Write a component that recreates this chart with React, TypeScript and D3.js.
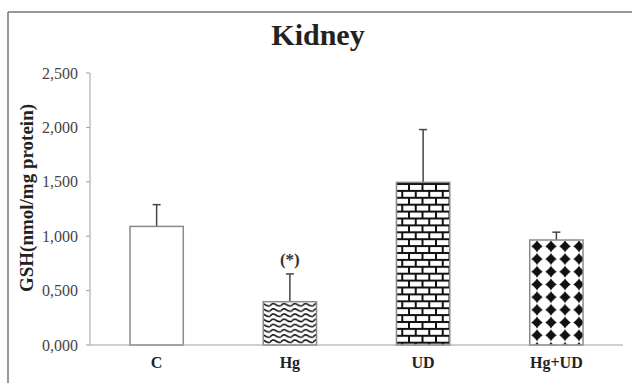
import React from "react";
import * as d3 from "d3";

const categories = ["C", "Hg", "UD", "Hg+UD"];
const means = [1090, 398, 1495, 965];
const errors = [200, 255, 485, 72];
const yTicks = [0, 500, 1000, 1500, 2000, 2500];
const patternIds = ["none", "wave", "brick", "diamond"];

const W = 632;
const H = 383;
const serif = "'Liberation Serif', 'Times New Roman', serif";

export default function App() {
  const x = d3
    .scaleBand<string>()
    .domain(categories)
    .range([90, 623])
    .paddingInner(0.6)
    .paddingOuter(0.3);
  const y = d3.scaleLinear().domain([0, 2500]).range([345, 73]);
  const tickLabel = (v: number) => (v / 1000).toFixed(3).replace(".", ",");

  const fillFor = (i: number) =>
    patternIds[i] === "none" ? "#ffffff" : `url(#${patternIds[i]})`;

  return (
    <svg
      width={W}
      height={H}
      style={{ position: "absolute", left: 0, top: 0, display: "block", background: "#fff" }}
      fontFamily={serif}
    >
      <defs>
        <pattern id="wave" patternUnits="userSpaceOnUse" width={10.8} height={5.2} x={0} y={302}>
          <rect width={10.8} height={5.2} fill="#fff" />
          <path
            d="M0,3.8 Q2.7,0.2 5.4,2.4 T10.8,3.8"
            fill="none"
            stroke="#111"
            strokeWidth={1.5}
          />
        </pattern>
        <pattern id="brick" patternUnits="userSpaceOnUse" width={27} height={13.8} x={0} y={183}>
          <rect width={27} height={13.8} fill="#fff" />
          <rect x={0} y={0} width={27} height={2} fill="#111" />
          <rect x={0} y={6.9} width={27} height={2} fill="#111" />
          <rect x={3} y={0} width={2} height={6.9} fill="#111" />
          <rect x={16.5} y={0} width={2} height={6.9} fill="#111" />
          <rect x={9.75} y={6.9} width={2} height={6.9} fill="#111" />
          <rect x={23.25} y={6.9} width={2} height={6.9} fill="#111" />
        </pattern>
        <pattern id="diamond" patternUnits="userSpaceOnUse" width={14} height={12.7} x={530} y={240}>
          <rect width={14} height={12.7} fill="#fff" />
          <path
            d="M7,0.6 Q9.2,4.6 12.8,6.35 Q9.2,8.1 7,12.1 Q4.8,8.1 1.2,6.35 Q4.8,4.6 7,0.6 Z"
            fill="#111"
          />
          <circle cx={7} cy={6.35} r={3.6} fill="#111" />
        </pattern>
      </defs>

      {/* outer frame */}
      <line x1={8} y1={12} x2={W} y2={12} stroke="#777" strokeWidth={1.5} />
      <line x1={8} y1={12} x2={8} y2={H} stroke="#777" strokeWidth={1.5} />

      {/* title */}
      <text x={318} y={45} textAnchor="middle" fontSize={30} fontWeight="bold" fill="#222">
        Kidney
      </text>

      {/* y axis */}
      <line x1={90} y1={y(2500)} x2={90} y2={y(0)} stroke="#a0a0a0" strokeWidth={1} />
      {yTicks.map((t) => (
        <g key={t}>
          <line x1={86} x2={90} y1={y(t)} y2={y(t)} stroke="#a0a0a0" strokeWidth={1} />
          <text x={78} y={y(t)} dy="0.35em" textAnchor="end" fontSize={16} fill="#444">
            {tickLabel(t)}
          </text>
        </g>
      ))}

      <text
        transform={`translate(33,198) rotate(-90)`}
        textAnchor="middle"
        fontSize={19}
        fontWeight="bold"
        fill="#222"
      >
        GSH(nmol/mg protein)
      </text>

      {/* bars */}
      {categories.map((c, i) => {
        const bx = x(c)!;
        const bw = x.bandwidth();
        const top = y(means[i]);
        const cx = bx + bw / 2;
        const et = y(means[i] + errors[i]);
        return (
          <g key={c}>
            <line x1={cx} x2={cx} y1={top} y2={et} stroke="#444" strokeWidth={1.5} />
            <line x1={cx - 4} x2={cx + 4} y1={et} y2={et} stroke="#444" strokeWidth={1.5} />
            <rect
              x={bx}
              y={top}
              width={bw}
              height={y(0) - top}
              fill={fillFor(i)}
              stroke="#8a8a8a"
              strokeWidth={1.5}
            />
            <text x={cx} y={368} textAnchor="middle" fontSize={16} fontWeight="bold" fill="#222">
              {c}
            </text>
          </g>
        );
      })}

      {/* significance marker */}
      <text
        x={x("Hg")! + x.bandwidth() / 2}
        y={y(means[1] + errors[1]) - 9}
        textAnchor="middle"
        fontSize={17}
        fontWeight="bold"
        fill="#333"
      >
        (*)
      </text>

      {/* x axis */}
      <line x1={90} x2={623} y1={y(0)} y2={y(0)} stroke="#a0a0a0" strokeWidth={1.2} />
    </svg>
  );
}
